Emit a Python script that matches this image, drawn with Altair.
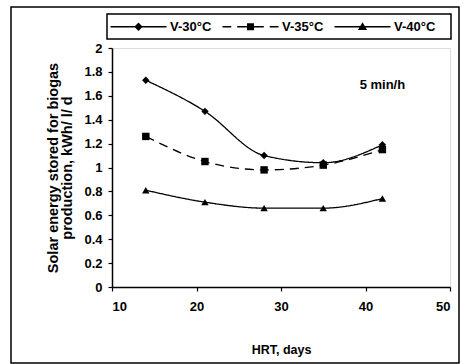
import altair as alt
import pandas as pd

hrt = [14, 21, 28, 35, 42]
series_names = ["V-30°C", "V-35°C", "V-40°C"]
v30 = [1.73, 1.47, 1.10, 1.04, 1.19]
v35 = [1.26, 1.05, 0.98, 1.02, 1.15]
v40 = [0.81, 0.71, 0.66, 0.66, 0.74]
y_ticks = [0, 0.2, 0.4, 0.6, 0.8, 1, 1.2, 1.4, 1.6, 1.8, 2]
x_ticks = [10, 20, 30, 40, 50]
note_text = ["5 min/h"]
note_x = [42]
note_y = [1.69]

rows = []
for name, vals in zip(series_names, [v30, v35, v40]):
    for x, y in zip(hrt, vals):
        rows.append({"HRT": x, "E": y, "series": name})
df = pd.DataFrame(rows)

FONT = "Liberation Sans"
lab = dict(labelFont=FONT, labelFontSize=13, labelFontWeight="bold", labelColor="black",
           titleFont=FONT, titleFontWeight="bold", titleColor="black",
           domainColor="black", domainWidth=1.5, tickColor="black", tickSize=4, tickWidth=1.2,
           grid=False)

x_enc = alt.X("HRT:Q", scale=alt.Scale(domain=[10, 50], nice=False, zero=False),
              axis=alt.Axis(values=x_ticks, title="HRT, days", titleFontSize=12.5,
                            labelPadding=9, titlePadding=30, **lab))
y_enc = alt.Y("E:Q", scale=alt.Scale(domain=[0, 2], nice=False),
              axis=alt.Axis(values=y_ticks,
                            format="~g", labelOverlap=False, labelPadding=6,
                            title=["Solar energy stored for biogas", "production, kWh/ l/ d"],
                            titleFontSize=14.5, titleLineHeight=14,
                            titlePadding=9, **lab))

base = alt.Chart(df)

lines = base.mark_line(interpolate="monotone", color="black", strokeWidth=1.3).encode(
    x=x_enc, y=y_enc,
    strokeDash=alt.StrokeDash("series:N",
                              scale=alt.Scale(domain=series_names, range=[[1, 0], [9, 6], [1, 0]]),
                              legend=None),
)

points = base.mark_point(filled=True, color="black", opacity=1, size=55).encode(
    x=x_enc, y=y_enc,
    shape=alt.Shape("series:N",
                    scale=alt.Scale(domain=series_names, range=["diamond", "square", "triangle-up"]),
                    legend=None),
)

legend_paths = [
    "M-8,-0.18H8V0.18H-8ZM0,-1.2L1.2,0L0,1.2L-1.2,0Z",
    "M-8,-0.18H-5.5V0.18H-8ZM-3.8,-0.18H3.8V0.18H-3.8ZM5.5,-0.18H8V0.18H5.5ZM-1,-1H1V1H-1Z",
    "M-8,-0.18H8V0.18H-8ZM0,-1.3L1.3,0.9L-1.3,0.9Z",
]

legend_layer = base.mark_point(filled=True, color="black", opacity=0).encode(
    x=x_enc, y=y_enc,
    shape=alt.Shape("series:N",
                    scale=alt.Scale(domain=series_names, range=legend_paths),
                    legend=alt.Legend(title=None, orient="none", direction="horizontal",
                                      legendX=20, legendY=-28, padding=0,
                                      symbolSize=49, symbolOpacity=1,
                                      symbolFillColor="black", symbolStrokeColor="black",
                                      symbolStrokeWidth=0,
                                      labelOffset=25, columnPadding=10,
                                      labelFont=FONT, labelFontSize=13, labelFontWeight="bold",
                                      labelColor="black")),
)

note_df = pd.DataFrame({"t": note_text, "HRT": note_x, "E": note_y})
note = alt.Chart(note_df).mark_text(font=FONT, fontSize=13, fontWeight="bold", color="black").encode(
    x=x_enc, y=y_enc, text="t:N"
)

one = pd.DataFrame({"a": [0]})
frame = alt.Chart(one).mark_rect(fill=None, stroke="black", strokeWidth=1.5).encode(
    x=alt.value(-101), x2=alt.value(347), y=alt.value(-41), y2=alt.value(315)
)
legend_box = alt.Chart(one).mark_rect(fill="white", stroke="black", strokeWidth=1.5).encode(
    x=alt.value(-5), x2=alt.value(339), y=alt.value(-34), y2=alt.value(-9)
)

chart = alt.layer(frame, legend_box, lines, points, legend_layer, note).resolve_scale(
    shape="independent"
).properties(
    width=338, height=239,
    autosize=alt.AutoSizeParams(type="none"),
    padding={"left": 112, "top": 48, "right": 16, "bottom": 77},
).configure_view(
    stroke="#888", strokeDash=[1, 3], strokeWidth=1
).configure_axis(
    labelFont=FONT, labelFontSize=13, labelFontWeight="bold", labelColor="black",
).configure_axisY(
    labelOverlap=False
).configure(background="white")

chart.save("out.html", embed_options={"renderer": "svg", "actions": False})
